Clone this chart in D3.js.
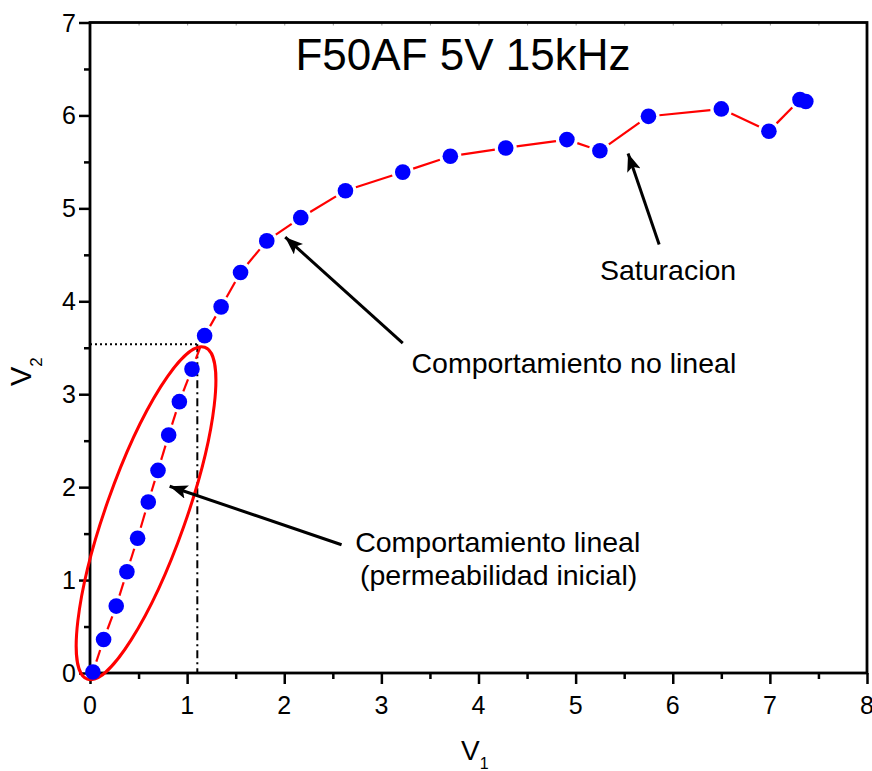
<!DOCTYPE html>
<html>
<head>
<meta charset="utf-8">
<script src="https://cdn.jsdelivr.net/npm/d3@7/dist/d3.min.js"></script>
<style>
  html, body { margin: 0; padding: 0; background: #fff; }
  svg { display: block; font-family: "Liberation Sans", Arial, sans-serif; }
</style>
</head>
<body>
<div id="chart"></div>
<script>
// V1 / V2 readings
const v1 = [0.03, 0.14, 0.27, 0.38, 0.49, 0.60, 0.70, 0.81, 0.92, 1.05, 1.18, 1.35,
            1.55, 1.82, 2.17, 2.63, 3.22, 3.71, 4.28, 4.91, 5.25, 5.75, 6.50, 6.99, 7.31, 7.37];
const v2 = [0.01, 0.36, 0.72, 1.09, 1.45, 1.84, 2.18, 2.56, 2.92, 3.27, 3.63, 3.94,
            4.31, 4.65, 4.90, 5.19, 5.39, 5.56, 5.65, 5.74, 5.62, 5.99, 6.07, 5.83, 6.17, 6.15];

const xTicks = [0, 1, 2, 3, 4, 5, 6, 7, 8];
const yTicks = [0, 1, 2, 3, 4, 5, 6, 7];

const title = "F50AF 5V 15kHz";

// guide point for the dotted lines
const guide = { x: 1.105, y: 3.537 };

// annotation texts (data coords of left/baseline)
const labels = [
  { text: "Saturacion", x: 5.25, y: 4.23 },
  { text: "Comportamiento no lineal", x: 3.31, y: 3.23 },
  { text: "Comportamiento lineal", x: 2.73, y: 1.30 },
  { text: "(permeabilidad inicial)", x: 2.78, y: 0.945 }
];

// arrows [tail -> tip], data coords
const arrows = [
  { x1: 5.86, y1: 4.61, x2: 5.54, y2: 5.59 },
  { x1: 3.22, y1: 3.55, x2: 2.01, y2: 4.69 },
  { x1: 2.59, y1: 1.38, x2: 0.82, y2: 2.01 }
];

// ellipse around the linear region
const ellipse = { cx: 0.577, cy: 1.72 };

const width = 872, height = 771;
const x = d3.scaleLinear().domain([0, 8]).range([90, 867]);
const y = d3.scaleLinear().domain([0, 7]).range([673, 22.5]);

const svg = d3.select("#chart").append("svg")
    .attr("width", width)
    .attr("height", height);

svg.append("defs").append("marker")
    .attr("id", "head")
    .attr("markerUnits", "userSpaceOnUse")
    .attr("viewBox", "0 0 18 14")
    .attr("refX", 18).attr("refY", 7)
    .attr("markerWidth", 18).attr("markerHeight", 14)
    .attr("orient", "auto")
  .append("path")
    .attr("d", "M0,0 L18,7 L0,14 L4,7 Z")
    .attr("fill", "#000");

// axes (tick marks only; labels drawn below)
const gBottom = svg.append("g").attr("transform", `translate(0,${y(0)})`)
    .call(d3.axisBottom(x).tickValues(xTicks).tickSize(11).tickFormat(""));
const gBottomMinor = svg.append("g").attr("transform", `translate(0,${y(0)})`)
    .call(d3.axisBottom(x).tickValues(d3.range(0.5, 8, 1)).tickSize(6).tickFormat(""));
const gLeft = svg.append("g").attr("transform", `translate(${x(0)},0)`)
    .call(d3.axisLeft(y).tickValues(yTicks).tickSize(11).tickFormat(""));
const gLeftMinor = svg.append("g").attr("transform", `translate(${x(0)},0)`)
    .call(d3.axisLeft(y).tickValues(d3.range(0.5, 7, 1)).tickSize(6).tickFormat(""));
const gTop = svg.append("g").attr("transform", `translate(0,${y(7)})`)
    .call(d3.axisBottom(x).tickValues(d3.range(0.5, 8, 0.5)).tickSize(3).tickFormat(""));

[gBottom, gBottomMinor, gLeft, gLeftMinor, gTop].forEach(g => {
  g.select(".domain").remove();
  g.selectAll(".tick line").attr("stroke", "#000").attr("stroke-width", 2.5);
});
gTop.selectAll(".tick line").attr("stroke", "#999").attr("stroke-width", 1);

svg.append("g").selectAll("text")
  .data(xTicks)
  .enter().append("text")
    .attr("x", d => x(d)).attr("y", 714)
    .attr("text-anchor", "middle")
    .style("font-size", "25px").attr("fill", "#000")
    .text(d => d);

svg.append("g").selectAll("text")
  .data(yTicks)
  .enter().append("text")
    .attr("x", 76).attr("y", d => y(d) + 9)
    .attr("text-anchor", "end")
    .style("font-size", "25px").attr("fill", "#000")
    .text(d => d);

svg.append("rect")
    .attr("x", x(0)).attr("y", y(7))
    .attr("width", x(8) - x(0)).attr("height", y(0) - y(7))
    .attr("fill", "none").attr("stroke", "#000").attr("stroke-width", 2.8);

// axis titles
const xl = svg.append("text").attr("x", 461).attr("y", 760)
    .style("font-size", "28px").attr("fill", "#000");
xl.append("tspan").text("V");
xl.append("tspan").text("1").style("font-size", "16px").attr("dy", 9);

const yl = svg.append("text").attr("transform", "translate(31,386) rotate(-90)")
    .style("font-size", "29px").attr("fill", "#000");
yl.append("tspan").text("V");
yl.append("tspan").text("2").style("font-size", "17px").attr("dy", 11);

// title
svg.append("text").attr("x", 463).attr("y", 70)
    .attr("text-anchor", "middle").style("font-size", "44px").attr("fill", "#000")
    .text(title);

// guide lines
svg.append("line")
    .attr("x1", x(0)).attr("y1", y(guide.y)).attr("x2", x(guide.x)).attr("y2", y(guide.y))
    .attr("stroke", "#000").attr("stroke-width", 2).attr("stroke-dasharray", "2,3");
svg.append("line")
    .attr("x1", x(guide.x)).attr("y1", y(guide.y)).attr("x2", x(guide.x)).attr("y2", y(0))
    .attr("stroke", "#000").attr("stroke-width", 2).attr("stroke-dasharray", "8,4,2,4");

// connecting line, with gaps at the symbols
const pts = v1.map((d, i) => [x(d), y(v2[i])]);
const gap = 11;
d3.pairs(pts).forEach(([a, b]) => {
  const dx = b[0] - a[0], dy = b[1] - a[1];
  const len = Math.hypot(dx, dy);
  if (len <= 2 * gap) return;
  const ux = dx / len, uy = dy / len;
  svg.append("line")
      .attr("x1", a[0] + ux * gap).attr("y1", a[1] + uy * gap)
      .attr("x2", b[0] - ux * gap).attr("y2", b[1] - uy * gap)
      .attr("stroke", "#ff0000").attr("stroke-width", 2.2);
});

// ellipse
svg.append("ellipse")
    .attr("transform", `translate(${x(ellipse.cx)},${y(ellipse.cy)}) rotate(-70.5)`)
    .attr("rx", 176).attr("ry", 40)
    .attr("fill", "none").attr("stroke", "#ff0000").attr("stroke-width", 3);

// points
svg.selectAll("circle.pt")
  .data(pts)
  .enter().append("circle")
    .attr("class", "pt")
    .attr("cx", d => d[0]).attr("cy", d => d[1])
    .attr("r", 7.8)
    .attr("fill", "#0000ff");

// arrows
svg.selectAll("line.arrow")
  .data(arrows)
  .enter().append("line")
    .attr("class", "arrow")
    .attr("x1", d => x(d.x1)).attr("y1", d => y(d.y1))
    .attr("x2", d => x(d.x2)).attr("y2", d => y(d.y2))
    .attr("stroke", "#000").attr("stroke-width", 3)
    .attr("marker-end", "url(#head)");

// annotation labels
svg.selectAll("text.note")
  .data(labels)
  .enter().append("text")
    .attr("class", "note")
    .attr("x", d => x(d.x)).attr("y", d => y(d.y))
    .style("font-size", "28.5px").attr("fill", "#000")
    .text(d => d.text);
</script>
</body>
</html>
